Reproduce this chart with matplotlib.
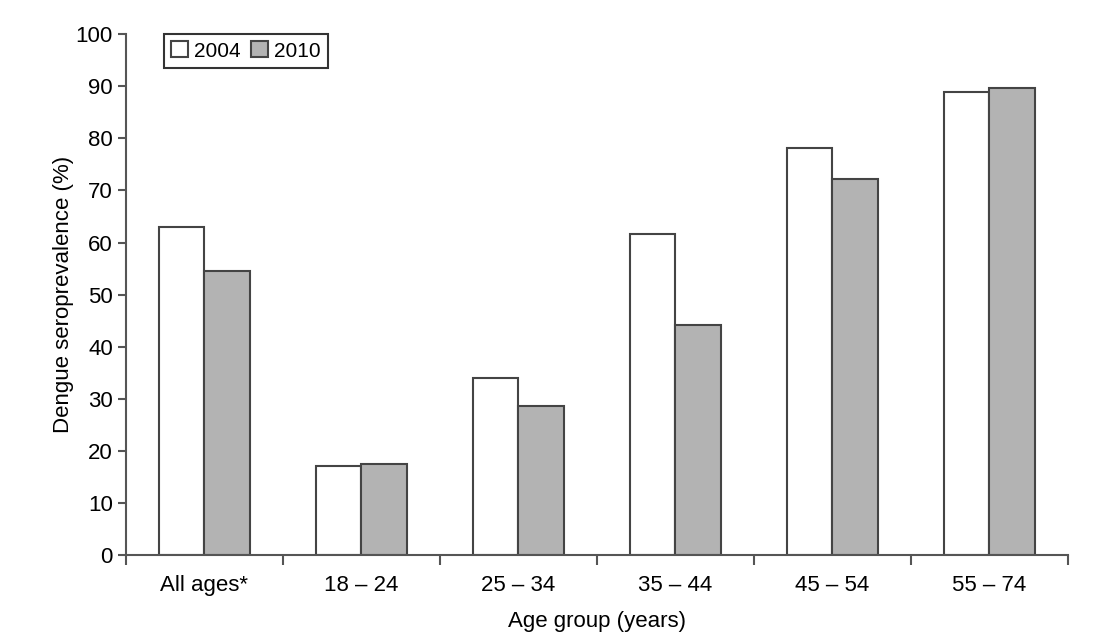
import numpy as np
import matplotlib.pyplot as plt
from matplotlib import font_manager

# Data
categories = ["All ages*", "18 \u2013 24", "25 \u2013 34", "35 \u2013 44", "45 \u2013 54", "55 \u2013 74"]
prev_2004 = [63.0, 17.1, 34.0, 61.7, 78.1, 88.9]
prev_2010 = [54.5, 17.5, 28.7, 44.1, 72.2, 89.6]
y_ticks = list(range(0, 101, 10))

available = {f.name for f in font_manager.fontManager.ttflist}
family = "Liberation Sans Narrow" if "Liberation Sans Narrow" in available else "Liberation Sans"
plt.rcParams["font.family"] = [family, "DejaVu Sans"]

fig = plt.figure(figsize=(11.2, 6.44), dpi=100)
ax = fig.add_axes([0.1125, 0.138, 0.841, 0.809])

x = np.arange(len(categories))
w = 0.29
edge = "#444444"
ax.bar(x - w / 2, prev_2004, w, color="white", edgecolor=edge, linewidth=1.5, label="2004")
ax.bar(x + w / 2, prev_2010, w, color="#b3b3b3", edgecolor=edge, linewidth=1.5, label="2010")

ax.set_xlim(-0.5, len(categories) - 0.5)
ax.set_ylim(0, 100)
ax.set_yticks(y_ticks)
# category boundaries get the ticks, names sit in between
ax.set_xticks(np.arange(len(categories) + 1) - 0.5)
ax.set_xticklabels([])
ax.set_xticks(x, minor=True)
ax.set_xticklabels(categories, minor=True)
ax.tick_params(axis="x", which="minor", length=0, pad=14, labelsize=16)
ax.tick_params(axis="x", which="major", length=7, width=1.5, color="#555555", direction="out")
ax.tick_params(axis="y", length=6, width=1.5, color="#555555", labelsize=16)

for side in ["top", "right"]:
    ax.spines[side].set_visible(False)
for side in ["left", "bottom"]:
    ax.spines[side].set_color("#555555")
    ax.spines[side].set_linewidth(1.5)

ax.set_ylabel("Dengue seroprevalence (%)", fontsize=16, labelpad=1)
ax.set_xlabel("Age group (years)", fontsize=16, labelpad=11)

leg = ax.legend(loc="upper left", bbox_to_anchor=(0.04, 1.0), ncol=2, fontsize=15,
                frameon=True, fancybox=False, edgecolor="black", handlelength=0.8,
                handleheight=0.8, handletextpad=0.3, columnspacing=0.5, borderpad=0.35,
                borderaxespad=0)
leg.get_frame().set_linewidth(1.5)

fig.savefig("out.png", dpi=100)
